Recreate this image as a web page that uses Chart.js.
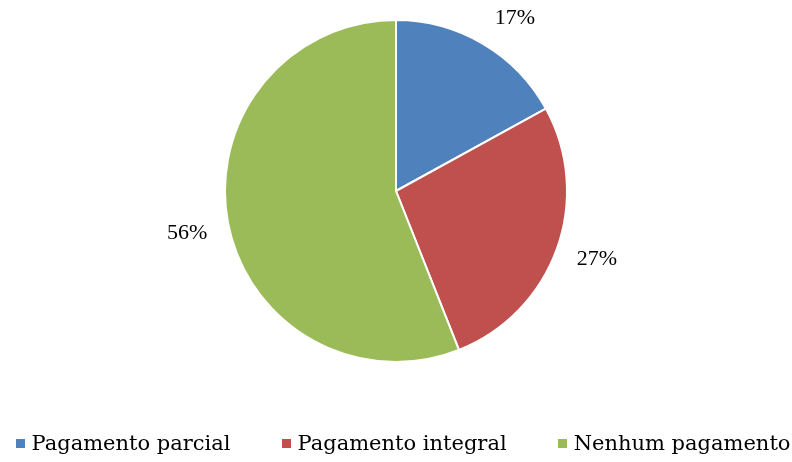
<!DOCTYPE html>
<html>
<head>
<meta charset="utf-8">
<script src="https://cdn.jsdelivr.net/npm/chart.js@4.4.0/dist/chart.umd.min.js"></script>
<style>
  html, body { margin: 0; padding: 0; background: #ffffff; }
  #wrap { position: relative; width: 792px; height: 462px; overflow: hidden; }
  #legend {
    position: absolute; left: 7px; top: 429px; width: 792px;
    display: flex; justify-content: center; gap: 51px;
    font-family: 'DejaVu Serif', serif; font-size: 21px; color: #000;
    line-height: 28px; white-space: nowrap;
  }
  #legend .item { display: flex; align-items: center; }
  #legend .box { width: 9px; height: 9px; margin-right: 7px; }
</style>
</head>
<body>
<div id="wrap">
  <canvas id="pieChart" width="792" height="462"></canvas>
  <div id="legend"></div>
</div>
<script>
const categories = ["Pagamento parcial", "Pagamento integral", "Nenhum pagamento"];
const shares = [17, 27, 56];
const sliceColors = ["#4F81BD", "#C0504D", "#9BBB59"];

const FONT = "'Liberation Serif', 'DejaVu Serif', serif";

// outside-end percentage labels, placed from each arc's own geometry
const outsideLabels = {
    id: 'outsideLabels',
    afterDatasetsDraw(chart) {
        const ctx = chart.ctx;
        const meta = chart.getDatasetMeta(0);
        ctx.save();
        ctx.font = '22px ' + FONT;
        ctx.fillStyle = '#000000';
        ctx.textAlign = 'center';
        ctx.textBaseline = 'middle';
        meta.data.forEach((arc, i) => {
            const mid = (arc.startAngle + arc.endAngle) / 2;
            const r = arc.outerRadius + 19;
            const text = shares[i] + '%';
            const w = ctx.measureText(text).width + 4;
            const h = 22;
            const px = arc.x + Math.cos(mid) * r;
            const py = arc.y + Math.sin(mid) * r;
            const cx = px + Math.sign(Math.cos(mid)) * w / 2;
            const cy = py + Math.sin(mid) * h / 2 + (Math.cos(mid) < 0 ? 5 : 0);
            ctx.fillText(text, cx, cy);
        });
        ctx.restore();
    }
};

const chart = new Chart(document.getElementById('pieChart').getContext('2d'), {
    type: 'pie',
    data: {
        labels: categories,
        datasets: [{
            data: shares,
            backgroundColor: sliceColors,
            borderColor: '#ffffff',
            borderWidth: 2,
            radius: 171
        }]
    },
    options: {
        responsive: false,
        animation: false,
        layout: { padding: { top: 0, bottom: 80 } },
        plugins: {
            tooltip: { enabled: false },
            legend: { display: false }
        }
    },
    plugins: [outsideLabels]
});

// legend built from the chart's own labels and colours
const legendEl = document.getElementById('legend');
chart.data.labels.forEach((label, i) => {
    const item = document.createElement('span');
    item.className = 'item';
    const box = document.createElement('span');
    box.className = 'box';
    box.style.background = chart.data.datasets[0].backgroundColor[i];
    item.appendChild(box);
    item.appendChild(document.createTextNode(label));
    legendEl.appendChild(item);
});
</script>
</body>
</html>
